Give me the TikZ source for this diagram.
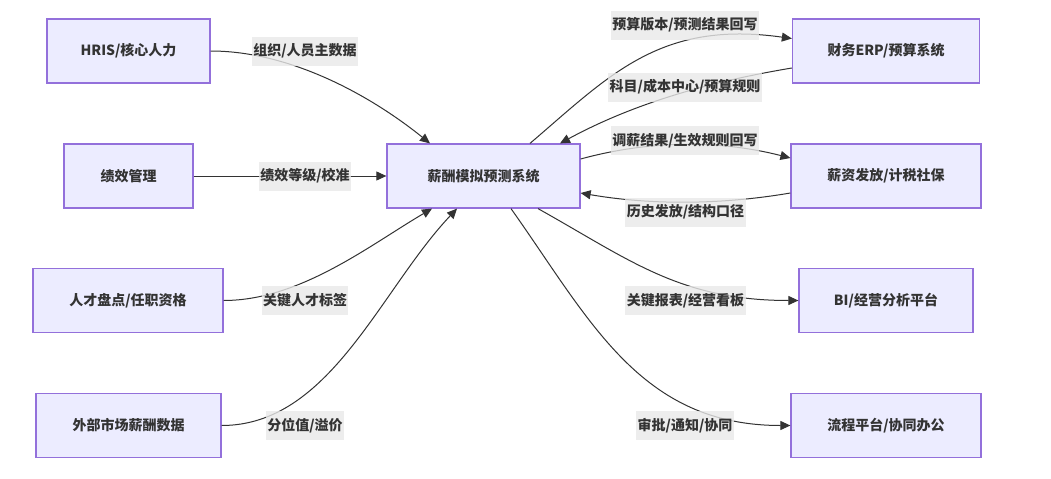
\documentclass[tikz,border=0pt]{standalone}
\usepackage{fontspec}
\setmainfont{Noto Sans CJK SC}
\usepackage{tikz}
\usetikzlibrary{arrows.meta, calc}
\definecolor{boxfill}{HTML}{ECECFF}
\definecolor{boxline}{HTML}{9370DB}
\definecolor{lblfill}{HTML}{E8E8E8}
\definecolor{ink}{HTML}{333333}
\tikzstyle{box} = [draw=boxline, fill=boxfill, line width=0.9pt, minimum height=48pt, text=ink, font=\bfseries\fontsize{10.5pt}{12pt}\selectfont]
\tikzstyle{lbl} = [fill=lblfill, fill opacity=0.8, text opacity=1, text=ink, inner xsep=1pt, minimum height=21.75pt, font=\bfseries\fontsize{10.5pt}{12pt}\selectfont]
\tikzstyle{arrow} = [draw=ink, line width=0.75pt, -{Triangle[length=7.5pt,width=6.75pt]}]

\begin{document}
\begin{tikzpicture}[x=0.75pt, y=-0.75pt]
	\useasboundingbox (0,0) rectangle (1051,479);
	% sources
	\node[box, minimum width=122.3pt] (hris) at (128.5,51) {HRIS/核心人力};
	\node[box, minimum width=96.8pt] (perf) at (128.5,176) {绩效管理};
	\node[box, minimum width=142.5pt] (talent) at (128,300.5) {人才盘点/任职资格};
	\node[box, minimum width=138.8pt] (market) at (128.5,425.5) {外部市场薪酬数据};
	% core
	\node[box, minimum width=144.8pt] (sim) at (483.5,176) {薪酬模拟预测系统};
	% targets
	\node[box, minimum width=140.3pt] (erp) at (886,51) {财务ERP/预算系统};
	\node[box, minimum width=142.5pt] (payroll) at (886,176) {薪资发放/计税社保};
	\node[box, minimum width=130.5pt] (bi) at (886,300.5) {BI/经营分析平台};
	\node[box, minimum width=142.5pt] (flow) at (886,425.5) {流程平台/协同办公};

	\draw[arrow] (hris.east) .. controls (290,51) and (370,95) .. ($(sim.north)+(-53.5,0)$);
	\draw[arrow] (perf.east) -- (sim.west);
	\draw[arrow] (talent.east) .. controls (300,300.5) and (370,245) .. ($(sim.south)+(-51.5,0)$);
	\draw[arrow] (market.east) .. controls (330,425.5) and (380,290) .. ($(sim.south)+(-26.5,0)$);
	\draw[arrow] ($(sim.north)+(46.5,0)$) .. controls (610,75) and (660,20) .. ($(erp.west)+(0,-12.5)$);
	\draw[arrow] ($(erp.west)+(0,17)$) .. controls (720,80) and (640,100) .. ($(sim.north)+(76.5,0)$);
	\draw[arrow] ($(sim.east)+(0,-17)$) .. controls (650,140) and (720,140) .. ($(payroll.west)+(0,-18)$);
	\draw[arrow] ($(payroll.west)+(0,17)$) .. controls (720,205) and (650,205) .. ($(sim.east)+(0,17)$);
	\draw[arrow] ($(sim.south)+(54.5,0)$) .. controls (630,260) and (680,300.5) .. (bi.west);
	\draw[arrow] ($(sim.south)+(27.5,0)$) .. controls (590,320) and (640,425.5) .. (flow.west);

	% edge labels
	\node[lbl] (lhris) at (305,51) {组织/人员主数据};
	\node[lbl] (lperf) at (305,176) {绩效等级/校准};
	\node[lbl] (ltalent) at (305,300.5) {关键人才标签};
	\node[lbl] (lmarket) at (305,425.5) {分位值/溢价};
	\node[lbl] (lerpout) at (685,25) {预算版本/预测结果回写};
	\node[lbl] (lerpin) at (685,87) {科目/成本中心/预算规则};
	\node[lbl] (lpayout) at (685,140.5) {调薪结果/生效规则回写};
	\node[lbl] (lpayin) at (685.5,212) {历史发放/结构口径};
	\node[lbl] (lbi) at (685.5,300.5) {关键报表/经营看板};
	\node[lbl] (lflow) at (685,425.5) {审批/通知/协同};
\end{tikzpicture}
\end{document}
